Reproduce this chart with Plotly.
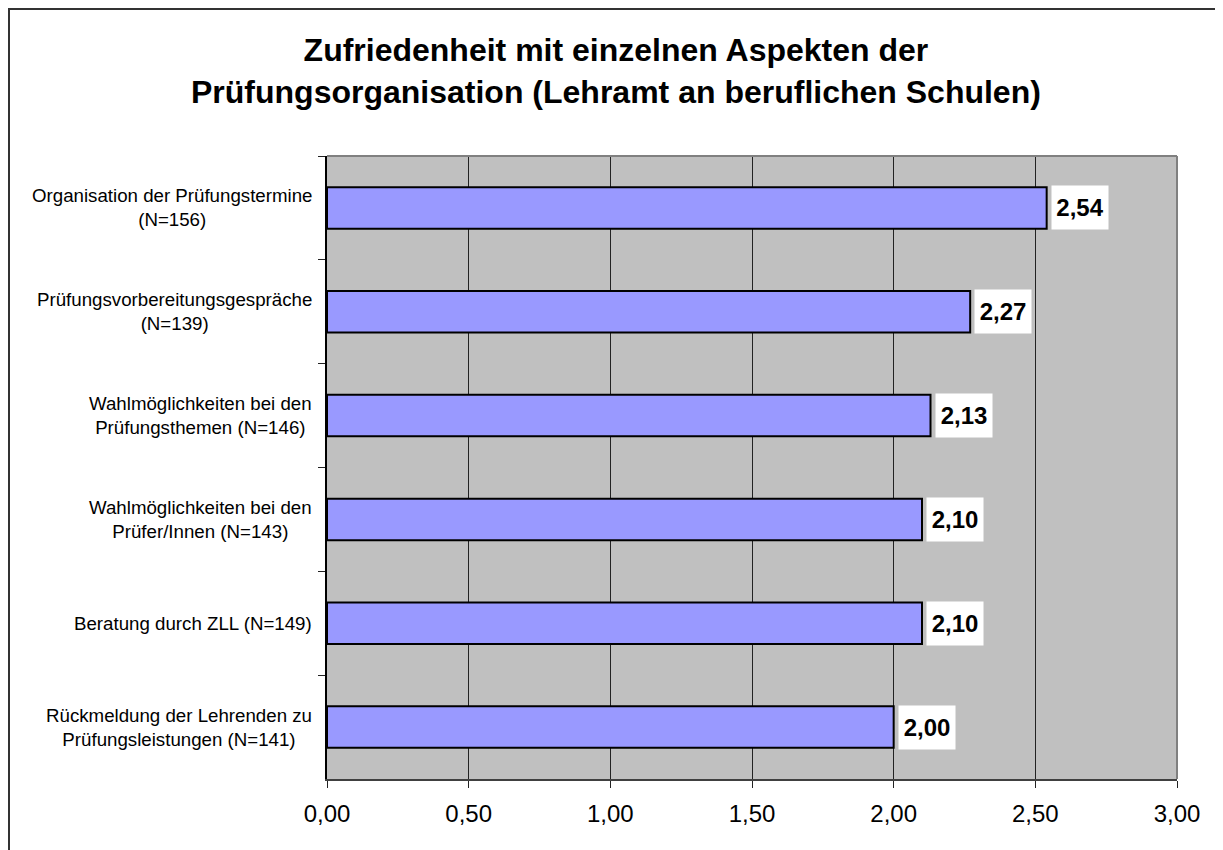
import plotly.graph_objects as go

categories = [
    "Organisation der Prüfungstermine<br>(N=156)",
    "Prüfungsvorbereitungsgespräche<br>(N=139)",
    "Wahlmöglichkeiten bei den<br>Prüfungsthemen (N=146)",
    "Wahlmöglichkeiten bei den<br>Prüfer/Innen (N=143)",
    "Beratung durch ZLL (N=149)",
    "Rückmeldung der Lehrenden zu<br>Prüfungsleistungen (N=141)",
]
values = [2.54, 2.27, 2.13, 2.10, 2.10, 2.00]
value_labels = ["2,54", "2,27", "2,13", "2,10", "2,10", "2,00"]
tick_vals = [0, 0.5, 1.0, 1.5, 2.0, 2.5, 3.0]
tick_text = ["0,00", "0,50", "1,00", "1,50", "2,00", "2,50", "3,00"]
title_text = ("Zufriedenheit mit einzelnen Aspekten der<br>"
              "Prüfungsorganisation (Lehramt an beruflichen Schulen)")

OFF = 8  # page body margin
W, H = 1223 - OFF, 850 - OFF
L, R, T, B = 327 - OFF, 1177 - OFF, 156 - OFF, 779 - OFF
FONT = "Arial, Liberation Sans, sans-serif"

fig = go.Figure()
fig.add_trace(go.Bar(
    x=values, y=categories, orientation="h",
    marker=dict(color="#9999FF", line=dict(color="black", width=2)),
    width=0.4, hoverinfo="skip",
))

annotations = []
for c, v, t in zip(categories, values, value_labels):
    annotations.append(dict(
        x=v, y=c, xref="x", yref="y", text="<b>%s</b>" % t, showarrow=False,
        xanchor="left", yanchor="middle", xshift=4,
        bgcolor="white", width=52, height=39, borderpad=2,
        font=dict(family=FONT, size=24, color="black"),
    ))
    annotations.append(dict(
        x=0, y=c, xref="paper", yref="y", text=c, showarrow=False,
        xanchor="right", yanchor="middle", xshift=-13, align="center",
        font=dict(family=FONT, size=18.7, color="black"),
    ))

pw, ph = R - L, B - T
annotations.append(dict(
    x=(616 - OFF - L) / pw, y=(B - (30 - OFF)) / ph, xref="paper", yref="paper",
    text="<b>%s</b>" % title_text, showarrow=False, xanchor="center", yanchor="top",
    align="center", font=dict(family=FONT, size=32, color="black"),
))

shapes = [
    # outer chart border (cut off at right/bottom)
    dict(type="rect", xref="paper", yref="paper",
         x0=(8 - OFF - L) / pw + 1 / pw, x1=(W + 40 - L) / pw,
         y0=(B - (H + 40)) / ph, y1=(B - (8 - OFF) - 1) / ph,
         line=dict(color="#333333", width=2), fillcolor="rgba(0,0,0,0)", layer="below"),
    # plot area border top/right
    dict(type="line", xref="paper", yref="paper", x0=0, x1=1, y0=1, y1=1,
         line=dict(color="#808080", width=2)),
    dict(type="line", xref="paper", yref="paper", x0=1, x1=1, y0=0, y1=1,
         line=dict(color="#808080", width=2)),
]

fig.update_layout(
    width=W, height=H,
    margin=dict(l=L, r=W - R, t=T, b=H - B, pad=0),
    paper_bgcolor="white", plot_bgcolor="#C0C0C0",
    showlegend=False, bargap=0.6,
    annotations=annotations, shapes=shapes,
    font=dict(family=FONT, color="black"),
)
fig.update_xaxes(
    range=[0, 3], tickvals=tick_vals, ticktext=tick_text,
    showgrid=True, gridcolor="#222222", gridwidth=1,
    showline=True, linecolor="#404040", linewidth=2,
    ticks="outside", ticklen=7, tickcolor="#222222", tickwidth=1,
    ticklabelstandoff=5,
    tickfont=dict(family=FONT, size=24, color="black"),
    zeroline=False, fixedrange=True,
)
fig.update_yaxes(
    autorange="reversed", type="category",
    showticklabels=False, ticks="outside", ticklen=7, tickcolor="#222222",
    tickson="boundaries", showgrid=False,
    showline=True, linecolor="black", linewidth=2,
    fixedrange=True,
)

fig.write_html("out.html")
